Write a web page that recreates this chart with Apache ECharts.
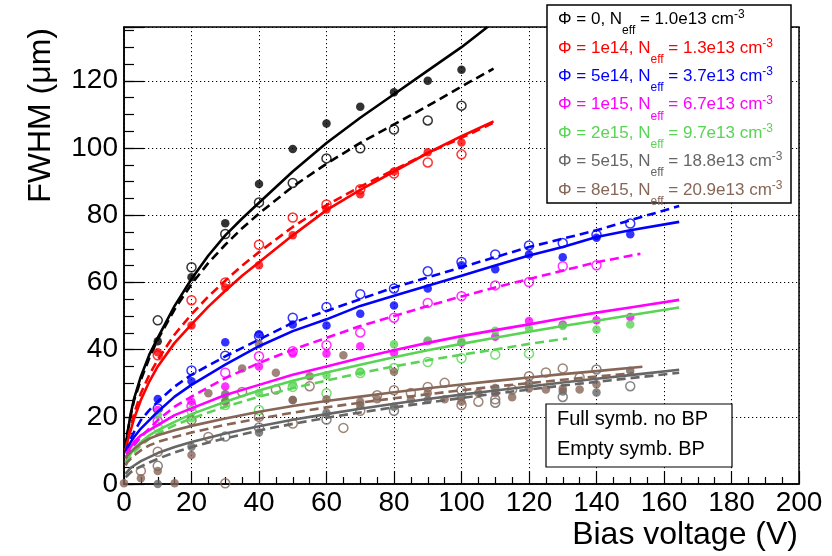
<!DOCTYPE html>
<html><head><meta charset="utf-8">
<script src="https://cdn.jsdelivr.net/npm/echarts@6/dist/echarts.min.js"></script>
<style>html,body{margin:0;padding:0;background:#fff}#c{width:832px;height:556px}</style>
</head><body><div id="c"></div>
<script>
// ---------- data ----------
const fluence = ['0', '1e14', '5e14', '1e15', '2e15', '5e15', '8e15'];
const neff = ['1.0e13', '1.3e13', '3.7e13', '6.7e13', '9.7e13', '18.8e13', '20.9e13'];
const xTicks = [0, 20, 40, 60, 80, 100, 120, 140, 160, 180, 200];
const yTicks = [0, 20, 40, 60, 80, 100, 120];

// full symbols: no BP ; empty symbols: BP   [bias V, FWHM um]
const phi0Full = [[10,42.5],[20,61.5],[30,77.6],[40,89.3],[50,99.7],[60,107.3],[70,112.3],[80,116.6],[90,120],[100,123.3]];
const phi0Bp = [[10,48.7],[20,64.5],[30,74.4],[40,83.8],[50,89.6],[60,96.9],[70,99.9],[80,105.5],[90,108.2],[100,112.6]];
const phi1e14Full = [[10,39.2],[20,47.2],[30,58.5],[40,65.1],[50,74],[60,81.7],[70,86.2],[80,93],[90,98.7],[100,101.6]];
const phi1e14Bp = [[10,38.3],[20,54.7],[30,60],[40,71.2],[50,79.3],[60,83.2],[70,87.7],[80,92.4],[90,95.7],[100,98.1]];
const phi5e14Full = [[10,25.3],[20,30.6],[30,42.2],[40,44.6],[50,47.5],[60,47.2],[70,50.7],[80,53.1],[90,58.2],[100,65.1],[110,63.9],[120,68.3],[130,67.5],[140,73.3],[150,74.3]];
const phi5e14Bp = [[10,22.5],[20,33.8],[30,38.2],[40,44],[50,49.5],[60,52.7],[70,56.5],[80,58.2],[90,63.3],[100,66.1],[110,68.3],[120,71],[130,71.7],[140,74.2],[150,77.5]];
const phi1e15Full = [[10,22],[20,24.5],[30,29],[40,35],[50,38.8],[60,38.8],[70,41],[80,39],[90,42.5],[100,42],[110,43.8],[120,48.5],[130,47.5],[140,48.7],[150,49.7]];
const phi1e15Bp = [[10,18.7],[20,23.2],[30,33.1],[40,38],[50,39.5],[60,41.3],[70,45.1],[80,49.5],[90,53.9],[100,55.9],[110,59.1],[120,60.1],[130,64.8],[140,65.1]];
const phi2e15Full = [[10,20.5],[20,19.5],[30,25],[40,27.1],[50,29.7],[60,32.4],[70,33.4],[80,41.6],[90,42.7],[100,42.5],[110,45.6],[120,46.3],[130,47],[140,46],[150,47.5]];
const phi2e15Bp = [[10,17],[20,21.8],[30,23.5],[40,22],[50,28.9],[60,27],[70,33],[80,34.5],[90,36.3],[100,37.4],[110,38.5],[120,38.8]];
const phi5e15Full = [[10,0],[20,11.1],[30,26.7],[40,15.3],[50,25],[60,21.2],[70,23.5],[80,23],[90,25],[100,26],[110,28.6],[120,29.9],[130,27.5],[140,27.2],[150,33.7]];
const phi5e15Bp = [[10,5.4],[30,14.1],[40,16.8],[60,19.2],[80,21.8],[100,27.9],[110,24.2],[130,25.9],[140,34.1],[150,29.1]];
const phi8e15Full = [[0,0.2],[5,1.7],[10,3.9],[15,0.2],[20,8.6],[25,27],[30,24.5],[35,34.4],[40,41.6],[45,33.1],[50,25],[55,32.1],[60,25.2],[65,38.3],[70,24.5],[75,25.2],[80,33.4],[85,25],[90,27],[95,25.2],[100,24.5],[105,27.1],[110,27.1],[115,25.8],[120,28.4],[125,28.1],[130,28.4],[135,28.1],[140,29.7]];
const phi8e15Bp = [[5,3.9],[10,9.6],[20,19],[25,14],[30,0.2],[35,27.4],[40,20],[45,28.1],[50,18],[55,29.1],[65,16.7],[70,21.8],[75,26.4],[80,27.9],[85,27.1],[90,28.9],[95,30.1],[100,23.5],[105,24.5],[110,25.2],[115,28.1],[120,32.1],[125,33.2],[130,34.4],[135,31.7]];

// fitted curves [bias V, FWHM um]
const fit0Full = [[0.5,11],[1,15],[2,21],[3,25.5],[5,32],[7.5,38.5],[10,43.5],[15,53],[20,61],[25,68],[30,74],[35,79],[40,83.7],[50,93],[60,101.5],[70,109],[80,116],[90,123],[100,130],[107.7,136]];
const fit0Bp = [[0.5,11],[1,15],[2,20.5],[3,25],[5,31],[7.5,37.5],[10,43],[15,52],[20,59.5],[25,65.8],[30,71.2],[35,76.1],[40,80.5],[50,88.5],[60,95.3],[70,101.5],[80,107],[90,112.5],[100,118.3],[109.5,123.6]];
const fit1e14Full = [[0.5,10],[1,12.5],[2,16],[3,19.5],[5,25],[7.5,30.5],[10,35],[15,42],[20,47.5],[25,52.8],[30,57.5],[35,62],[40,66],[50,74],[60,81.5],[70,87.5],[80,93],[90,98.5],[100,103.5],[109.5,107.9]];
const fit1e14Bp = [[0.5,10],[1,13],[2,17],[3,21],[5,27],[7.5,32.5],[10,37],[15,44.5],[20,50.5],[25,55.8],[30,60.5],[35,65],[40,69],[50,76.5],[60,83],[70,88.5],[80,93.5],[90,98.5],[100,103],[109.5,107.5]];
const fit5e14Full = [[0.5,9.5],[1,10.5],[2,12.5],[3,14],[5,16.5],[7.5,19],[10,21.5],[15,26],[20,29.5],[30,35.5],[40,41],[50,45.5],[60,49],[70,53],[80,56],[90,59],[100,62],[110,65],[120,68],[130,70.5],[140,73.5],[150,75.5],[164.5,78]];
const fit5e14Bp = [[0.5,9.5],[1,11],[2,13.5],[3,15.5],[5,19],[7.5,22],[10,24.5],[15,29],[20,32.5],[30,38],[40,43],[50,48],[60,51.5],[70,55],[80,58.5],[90,61.5],[100,64.5],[110,67.5],[120,70.5],[130,73],[140,75.5],[150,78.5],[164.5,82.7]];
const fit1e15Full = [[0.5,9],[1,9.5],[2,11],[3,12.5],[5,14.5],[7.5,16],[10,17.5],[15,20.5],[20,22.5],[30,26.5],[40,29.5],[50,32.5],[60,35],[70,37.5],[80,39.8],[90,42],[100,44],[110,45.8],[120,47.5],[130,49.3],[140,51],[150,52.5],[164.5,54.8]];
const fit1e15Bp = [[0.5,8],[1,8.5],[2,10],[3,11.5],[5,14],[7.5,16.5],[10,19],[15,23],[20,26],[30,31.5],[40,36],[50,40],[60,43.5],[70,47],[80,50],[90,53],[100,55.8],[110,58.5],[120,61],[130,63.5],[140,66],[153,68.5]];
const fit2e15Full = [[0.5,6.5],[1,7.5],[2,9],[3,10.5],[5,12.5],[7.5,14.5],[10,16],[15,18.5],[20,20.8],[30,24.5],[40,27.8],[50,30.7],[60,33.2],[70,35.5],[80,37.7],[90,39.8],[100,41.7],[110,43.5],[120,45.3],[130,47],[140,48.6],[150,50.2],[164.5,52.5]];
const fit2e15Bp = [[0.5,6],[1,6.5],[2,8],[3,9.5],[5,11.5],[7.5,13.5],[10,15],[15,17.5],[20,19.5],[30,23],[40,26],[50,28.5],[60,30.8],[70,33],[80,35],[90,36.8],[100,38.5],[110,40],[120,41.7],[131.3,43.3]];
const fit5e15Full = [[0.5,3],[1,3.7],[2,4.8],[3,5.5],[5,6.8],[7.5,8],[10,9.2],[15,11],[20,12.5],[30,15],[40,17.2],[50,19.1],[60,20.8],[70,22.4],[80,23.9],[90,25.3],[100,26.6],[110,27.8],[120,29],[130,30.2],[140,31.3],[150,32.4],[164.5,34]];
const fit5e15Bp = [[0.5,2],[1,2.5],[2,3.5],[3,4.2],[5,5.2],[7.5,6.4],[10,7.5],[15,9.4],[20,11],[30,13.6],[40,15.9],[50,17.9],[60,19.7],[70,21.3],[80,22.8],[90,24.2],[100,25.6],[110,26.9],[120,28.1],[130,29.3],[140,30.4],[150,31.5],[164.5,33.1]];
const fit8e15Full = [[0.5,7.5],[1,8.5],[2,9.5],[3,10.5],[5,12],[7.5,13.5],[10,14.5],[15,16],[20,17.3],[30,19.5],[40,21.5],[50,23.2],[60,24.7],[70,26],[80,27.3],[90,28.5],[100,29.6],[110,30.7],[120,31.7],[130,32.7],[140,33.6],[153.6,34.9]];
const fit8e15Bp = [[0.5,5.5],[1,6.5],[2,7.5],[3,8.5],[5,10],[7.5,11.5],[10,12.5],[15,14],[20,15.3],[30,17.6],[40,19.5],[50,21.2],[60,22.8],[70,24.2],[80,25.5],[90,26.7],[100,27.9],[110,29],[120,30],[130,31],[140,32],[151,33]];

const fullSets = [phi0Full, phi1e14Full, phi5e14Full, phi1e15Full, phi2e15Full, phi5e15Full, phi8e15Full];
const bpSets = [phi0Bp, phi1e14Bp, phi5e14Bp, phi1e15Bp, phi2e15Bp, phi5e15Bp, phi8e15Bp];
const fitFullSets = [fit0Full, fit1e14Full, fit5e14Full, fit1e15Full, fit2e15Full, fit5e15Full, fit8e15Full];
const fitBpSets = [fit0Bp, fit1e14Bp, fit5e14Bp, fit1e15Bp, fit2e15Bp, fit5e15Bp, fit8e15Bp];

// ---------- styling ----------
const COLORS = ['#000000', '#ff0000', '#0000ff', '#ff00ff', '#59d454', '#666666', '#876657'];
const FONT = '"Liberation Sans", Arial, Helvetica, sans-serif';
const names = fluence.map((f, i) => `Φ = ${f}, Neff = ${neff[i]} cm-3`);

const series = [];
fluence.forEach((f, i) => {
  const c = COLORS[i];
  series.push({
    name: names[i], type: 'scatter', data: fullSets[i], symbol: 'circle', symbolSize: 8.5,
    itemStyle: { color: c }, z: 3, silent: true
  });
  series.push({
    name: names[i] + ' BP', type: 'scatter', data: bpSets[i], symbol: 'circle', symbolSize: 9,
    itemStyle: { color: 'rgba(0,0,0,0)', borderColor: c, borderWidth: 1.5 }, z: 3, silent: true
  });
  series.push({
    name: names[i] + ' fit', type: 'line', data: fitFullSets[i], showSymbol: false, symbol: 'none',
    smooth: false, lineStyle: { color: c, width: 2.6, join: 'round' }, z: 4, silent: true
  });
  series.push({
    name: names[i] + ' BP fit', type: 'line', data: fitBpSets[i], showSymbol: false, symbol: 'none',
    smooth: false, lineStyle: { color: c, width: 2.6, type: [9, 5], join: 'round' }, z: 4, silent: true
  });
});

const rich = {};
COLORS.forEach((c, i) => {
  rich['m' + i] = { color: c, fontFamily: FONT, fontSize: 17, verticalAlign: 'top' };
  rich['s' + i] = { color: c, fontFamily: FONT, fontSize: 12, lineHeight: 24, height: 8, verticalAlign: 'bottom' };
  rich['p' + i] = { color: c, fontFamily: FONT, fontSize: 12, height: 8, verticalAlign: 'top' };
});

const axisBlack = { color: '#000', width: 1.2 };
const chart = echarts.init(document.getElementById('c'), null, { renderer: 'canvas' });
chart.setOption({
  animation: false,
  backgroundColor: '#ffffff',
  grid: { left: 124, right: 33, top: 27, bottom: 72, show: true, borderColor: '#000', borderWidth: 1.5, backgroundColor: 'rgba(0,0,0,0)' },
  xAxis: {
    type: 'value', min: xTicks[0], max: xTicks[xTicks.length - 1], interval: xTicks[1] - xTicks[0],
    axisLine: { show: true, lineStyle: { color: '#000', width: 1.5 } },
    axisTick: { show: true, inside: true, length: 13, lineStyle: axisBlack },
    minorTick: { show: true, splitNumber: 4, length: 7, lineStyle: axisBlack },
    axisLabel: { color: '#000', fontSize: 28, fontFamily: FONT, margin: 5 },
    splitLine: { show: true, lineStyle: { color: '#000', width: 1, type: [1.2, 2.8] } }
  },
  yAxis: [{
    type: 'value', min: 0, max: 136, interval: yTicks[1] - yTicks[0],
    axisLine: { show: true, lineStyle: { color: '#000', width: 1.5 } },
    axisTick: { show: true, inside: true, length: 20, lineStyle: axisBlack },
    axisLabel: { color: '#000', fontSize: 28, fontFamily: FONT, margin: 6,
      formatter: v => (yTicks.indexOf(v) >= 0 ? String(v) : '') },
    splitLine: { show: true, lineStyle: { color: '#000', width: 1, type: [1.2, 2.8] } }
  }, {
    type: 'value', min: 0, max: 136, interval: 5, position: 'left', offset: 0,
    axisLine: { show: false },
    axisTick: { show: true, inside: true, length: 10, lineStyle: axisBlack },
    axisLabel: { show: false }, splitLine: { show: false }
  }],
  legend: {
    orient: 'vertical', left: 553, top: 9, padding: 0, itemGap: 0.4, itemWidth: 0, itemHeight: 10,
    icon: 'none', selectedMode: false, z: 10,
    data: names.map((n, i) => ({ name: n, textStyle: { color: COLORS[i] } })),
    formatter: function (name) {
      const i = names.indexOf(name);
      return `{m${i}|Φ = ${fluence[i]}, N}{s${i}|eff}{m${i}| = ${neff[i]} cm}{p${i}|-3}`;
    },
    textStyle: { fontFamily: FONT, fontSize: 17, rich: rich }
  },
  graphic: [
    { type: 'rect', z: 8, shape: { x: 547, y: 5, width: 244, height: 198 },
      style: { fill: '#fff', stroke: '#000', lineWidth: 1.5 } },
    { type: 'rect', z: 8, shape: { x: 546, y: 404, width: 186, height: 63 },
      style: { fill: '#fff', stroke: '#000', lineWidth: 1.2 } },
    { type: 'text', z: 9, x: 557, y: 419, style: { text: 'Full symb. no BP', font: '20px ' + FONT, fill: '#000', textAlign: 'left', textVerticalAlign: 'middle' } },
    { type: 'text', z: 9, x: 557, y: 449, style: { text: 'Empty symb. BP', font: '20px ' + FONT, fill: '#000', textAlign: 'left', textVerticalAlign: 'middle' } },
    { type: 'text', z: 9, x: 798, y: 535, style: { text: 'Bias voltage (V)', font: '32px ' + FONT, fill: '#000', textAlign: 'right', textVerticalAlign: 'middle' } },
    { type: 'text', z: 9, x: 41, y: 28, rotation: Math.PI / 2, style: { text: 'FWHM (μm)', font: '32px ' + FONT, fill: '#000', textAlign: 'right', textVerticalAlign: 'middle' } }
  ],
  series: series
});
</script>
</body></html>
